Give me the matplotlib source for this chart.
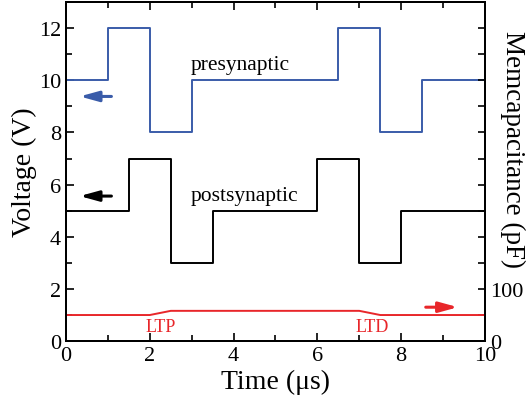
import numpy as np
import matplotlib
matplotlib.use('Agg')
import matplotlib.pyplot as plt
from matplotlib.ticker import MultipleLocator

plt.rcParams['font.family'] = ['Liberation Serif', 'DejaVu Serif']

# Pulse trains (time in us, voltage in V) #
pre_t = [0, 1, 1, 2, 2, 3, 3, 6.5, 6.5, 7.5, 7.5, 8.5, 8.5, 10]
pre_v = [10, 10, 12, 12, 8, 8, 10, 10, 12, 12, 8, 8, 10, 10]
post_t = [0, 1.5, 1.5, 2.5, 2.5, 3.5, 3.5, 6, 6, 7, 7, 8, 8, 10]
post_v = [5, 5, 7, 7, 3, 3, 5, 5, 7, 7, 3, 3, 5, 5]
# Memcapacitance (pF) #
mem_t = [0, 2, 2.5, 7, 7.5, 10]
mem_c = [50, 50, 58, 58, 50, 50]

blue = '#3a5ca9'
red = '#e8262a'

fig = plt.figure(figsize=(5.26, 4.02), dpi=100)
ax = fig.add_axes([0.1255, 0.149, 0.7965, 0.8435])
ax2 = ax.twinx()

ax.plot(pre_t, pre_v, color=blue, lw=1.4)
ax.plot(post_t, post_v, color='black', lw=1.4)
ax2.plot(mem_t, mem_c, color=red, lw=1.4)

ax.set_xlim(0, 10)
ax.set_ylim(0, 13)
ax2.set_ylim(0, 650)

ax.xaxis.set_major_locator(MultipleLocator(2))
ax.xaxis.set_minor_locator(MultipleLocator(1))
ax.yaxis.set_major_locator(MultipleLocator(2))
ax.yaxis.set_minor_locator(MultipleLocator(1))
ax2.set_yticks(np.arange(0, 651, 50))
ax2.set_yticklabels(['0', '', '100'] + [''] * 11)

ax.tick_params(which='both', direction='in', top=True, labelsize=16, width=1.2)
ax.tick_params(which='major', length=6)
ax.tick_params(which='minor', length=4)
ax2.tick_params(direction='in', labelsize=16, length=5, width=1.2)
for a in (ax, ax2):
    for s in a.spines.values():
        s.set_linewidth(1.4)

ax.set_xlabel('Time (\u03bcs)', fontsize=20, labelpad=3)
ax.set_ylabel('Voltage (V)', fontsize=20, va='center')
ax.yaxis.set_label_coords(-0.1, 0.5)
ax2.set_ylabel('Memcapacitance (pF)', fontsize=19.5, rotation=270, va='center')
ax2.yaxis.set_label_coords(1.066, 0.569)

ax.text(4.15, 10.6, 'presynaptic', fontsize=15.5, ha='center', va='center')
ax.text(4.25, 5.6, 'postsynaptic', fontsize=15.5, ha='center', va='center')
ax.text(2.25, 0.55, 'LTP', fontsize=13, color=red, ha='center', va='center')
ax.text(7.3, 0.55, 'LTD', fontsize=13, color=red, ha='center', va='center')

# direction arrows #
arrow = '-|>,head_length=0.8,head_width=0.22'
ax.annotate('', xy=(0.26, 9.38), xytext=(1.15, 9.38),
            arrowprops=dict(arrowstyle=arrow, color=blue, lw=2.2, mutation_scale=14))
ax.annotate('', xy=(0.26, 5.56), xytext=(1.15, 5.56),
            arrowprops=dict(arrowstyle=arrow, color='black', lw=2.2, mutation_scale=14))
ax2.annotate('', xy=(9.42, 65), xytext=(8.52, 65),
             arrowprops=dict(arrowstyle=arrow, color=red, lw=2.2, mutation_scale=14))

fig.savefig('out.png', dpi=100)
